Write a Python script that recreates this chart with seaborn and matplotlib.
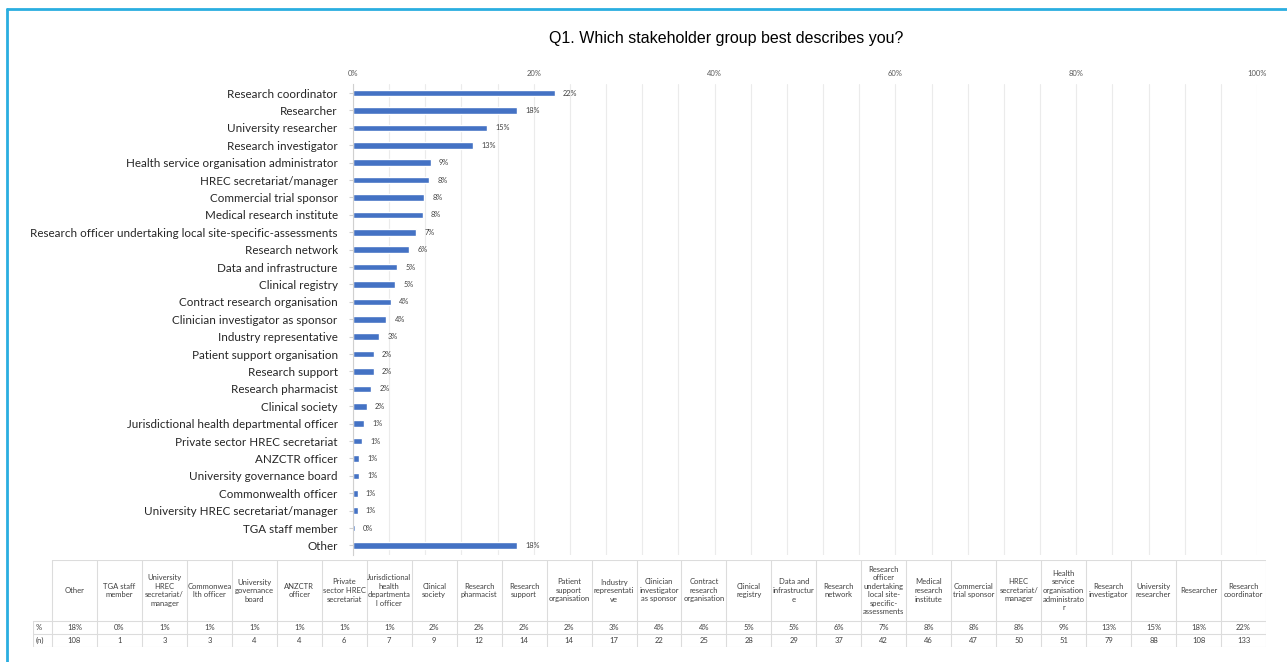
import matplotlib
matplotlib.use("Agg")
import matplotlib.pyplot as plt
import seaborn as sns
import pandas as pd
from matplotlib.lines import Line2D

# ---------------- data ----------------
categories = [
    "Research coordinator", "Researcher", "University researcher", "Research investigator",
    "Health service organisation administrator", "HREC secretariat/manager",
    "Commercial trial sponsor", "Medical research institute",
    "Research officer undertaking local site-specific-assessments", "Research network",
    "Data and infrastructure", "Clinical registry", "Contract research organisation",
    "Clinician investigator as sponsor", "Industry representative",
    "Patient support organisation", "Research support", "Research pharmacist",
    "Clinical society", "Jurisdictional health departmental officer",
    "Private sector HREC secretariat", "ANZCTR officer", "University governance board",
    "Commonwealth officer", "University HREC secretariat/manager", "TGA staff member", "Other",
]
share_pct = [22.3, 18.1, 14.8, 13.3, 8.6, 8.4, 7.9, 7.7, 7.0, 6.2, 4.9, 4.7, 4.2, 3.7,
             2.9, 2.3, 2.3, 2.0, 1.5, 1.2, 1.0, 0.7, 0.7, 0.5, 0.5, 0.2, 18.1]
label_pct = [22, 18, 15, 13, 9, 8, 8, 8, 7, 6, 5, 5, 4, 4, 3, 2, 2, 2, 2, 1, 1, 1, 1, 1, 1, 0, 18]
counts = [133, 108, 88, 79, 51, 50, 47, 46, 42, 37, 29, 28, 25, 22, 17, 14, 14, 12, 9, 7,
          6, 4, 4, 3, 3, 1, 108]
# table header labels (as wrapped in the source table), in table order (left to right)
table_headers = [
    "Other", "TGA staff\nmember", "University\nHREC\nsecretariat/\nmanager",
    "Commonwea\nlth officer", "University\ngovernance\nboard", "ANZCTR\nofficer",
    "Private\nsector HREC\nsecretariat", "Jurisdictional\nhealth\ndepartmenta\nl officer",
    "Clinical\nsociety", "Research\npharmacist", "Research\nsupport",
    "Patient\nsupport\norganisation", "Industry\nrepresentati\nve",
    "Clinician\ninvestigator\nas sponsor", "Contract\nresearch\norganisation",
    "Clinical\nregistry", "Data and\ninfrastructur\ne", "Research\nnetwork",
    "Research\nofficer\nundertaking\nlocal site-\nspecific-\nassessments",
    "Medical\nresearch\ninstitute", "Commercial\ntrial sponsor", "HREC\nsecretariat/\nmanager",
    "Health\nservice\norganisation\nadministrato\nr", "Research\ninvestigator",
    "University\nresearcher", "Researcher", "Research\ncoordinator",
]
x_ticks = [0, 20, 40, 60, 80, 100]
x_tick_labels = ["0%", "20%", "40%", "60%", "80%", "100%"]
title = "Q1. Which stakeholder group best describes you?"

# ---------------- style ----------------
sns.set_theme(style="white")
plt.rcParams["font.family"] = ["Lato", "DejaVu Sans"]

W, H = 1287, 662
fig = plt.figure(figsize=(W / 100, H / 100), dpi=100)
fig.patch.set_facecolor("white")

def fx(px):
    return px / W

def fy(py):
    return 1 - py / H

# frame lines (top and left)
frame_col = "#2AAEE0"
fig.add_artist(Line2D([fx(6.5), 1.0], [fy(9), fy(9)], color=frame_col, lw=2.0,
                      transform=fig.transFigure))
fig.add_artist(Line2D([fx(6.5), fx(6.5)], [fy(9), 0.0], color=frame_col, lw=2.0,
                      transform=fig.transFigure))

# title
fig.text(fx(726), fy(38), title, ha="center", va="center", fontsize=11.5,
         family="Liberation Sans", color="#000000")

# ---------------- bar chart ----------------
left, right, top, bottom = 353, 1257, 84, 555
ax = fig.add_axes([fx(left), fy(bottom), fx(right - left), (bottom - top) / H])
df = pd.DataFrame({"category": categories, "share": share_pct})
sns.barplot(data=df, x="share", y="category", orient="h", color="#4472C4",
            width=0.38, saturation=1, ax=ax)
ax.set_xlim(0, 100)
ax.set_ylim(26.55, -0.52)
ax.set_xlabel("")
ax.set_ylabel("")
ax.xaxis.tick_top()
ax.set_xticks(x_ticks)
ax.set_xticklabels(x_tick_labels, fontsize=5.5, color="#595959")
ax.set_xticks(list(range(0, 101, 4)), minor=True)
ax.tick_params(axis="x", which="both", length=0, pad=5)
ax.grid(axis="x", which="both", color="#EBEBEB", lw=0.8)
ax.set_axisbelow(True)
ax.tick_params(axis="y", length=3, color="#D0D0D0", width=0.8, pad=8,
               labelsize=8.4, labelcolor="#262626")
ax.tick_params(axis="y", left=True)
for s in ["top", "right", "bottom"]:
    ax.spines[s].set_visible(False)
ax.spines["left"].set_color("#D0D0D0")
ax.spines["left"].set_linewidth(0.8)

ax.bar_label(ax.containers[0], labels=[f"{v}%" for v in label_pct], padding=6,
             fontsize=5.3, color="#404040")

# ---------------- data table ----------------
tl, tr, tt, tb = 33, 1266, 560, 647
tax = fig.add_axes([fx(tl), fy(tb), fx(tr - tl), (tb - tt) / H])
tax.set_xlim(tl, tr)
tax.set_ylim(tb, tt)
tax.axis("off")
grid_col = "#DCDCDC"
c0 = 52
n = len(table_headers)
cw = (tr - c0) / n
hdr_bottom, row1_bottom = 621, 634
tax.plot([c0, tr], [tt, tt], color=grid_col, lw=0.8)
for yy in [hdr_bottom, row1_bottom, tb]:
    tax.plot([tl, tr], [yy, yy], color=grid_col, lw=0.8)
tax.plot([tl, tl], [hdr_bottom, tb], color=grid_col, lw=0.8)
for i in range(n + 1):
    xx = c0 + i * cw
    tax.plot([xx, xx], [tt, tb], color=grid_col, lw=0.8)

pct_rev = label_pct[::-1]
cnt_rev = counts[::-1]
for i, h in enumerate(table_headers):
    xc = c0 + (i + 0.5) * cw
    tax.text(xc, (tt + hdr_bottom) / 2, h, ha="center", va="center", fontsize=5.5,
             color="#404040", linespacing=1.25)
    tax.text(xc, (hdr_bottom + row1_bottom) / 2, f"{pct_rev[i]}%", ha="center",
             va="center", fontsize=5.5, color="#404040")
    tax.text(xc, (row1_bottom + tb) / 2, f"{cnt_rev[i]}", ha="center", va="center",
             fontsize=5.5, color="#404040")
tax.text(tl + 3, (hdr_bottom + row1_bottom) / 2, "%", ha="left", va="center",
         fontsize=5.5, color="#404040")
tax.text(tl + 3, (row1_bottom + tb) / 2, "(n)", ha="left", va="center",
         fontsize=5.5, color="#404040")

fig.savefig("out.png", dpi=100, facecolor="white")
